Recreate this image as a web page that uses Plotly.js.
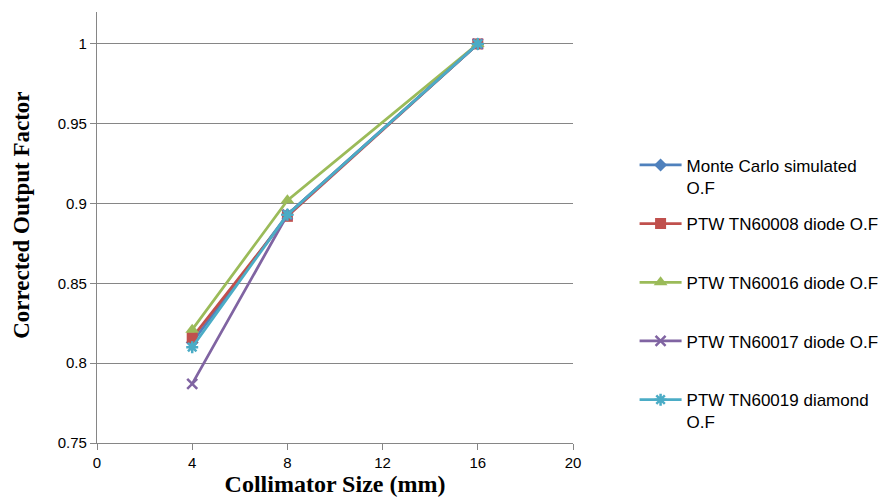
<!DOCTYPE html>
<html><head><meta charset="utf-8">
<script src="https://cdn.plot.ly/plotly-3.0.1.min.js"></script>
<style>body{margin:0;background:#fff}#c{width:895px;height:502px}</style>
</head><body><div id="c"></div>
<script>
const collimator = [4, 8, 16];
const seriesNames = ["Monte Carlo simulated<br>O.F", "PTW TN60008 diode O.F<br> ", "PTW TN60016 diode O.F<br> ", "PTW TN60017 diode O.F<br> ", "PTW TN60019 diamond<br>O.F"];
const monteCarlo = [0.813, 0.893, 1.0];
const tn60008 = [0.816, 0.892, 1.0];
const tn60016 = [0.821, 0.902, 1.0];
const tn60017 = [0.787, 0.893, 1.0];
const tn60019 = [0.810, 0.893, 1.0];
const xTicks = [0, 4, 8, 12, 16, 20];
const yTicks = [0.75, 0.8, 0.85, 0.9, 0.95, 1];
const yTitle = "Corrected Output Factor";
const xTitle = "Collimator Size (mm)";

const colors = ["#4F81BD", "#C0504D", "#9BBB59", "#8064A2", "#4BACC6"];
const symbols = ["diamond", "square", "triangle-up", "x-thin-open", "asterisk-open"];
const sizes = [10, 11, 12, 10, 10];
const vals = [monteCarlo, tn60008, tn60016, tn60017, tn60019];

const traces = vals.map((v, i) => ({
  x: collimator, y: v, name: seriesNames[i], type: "scatter", mode: "lines+markers",
  legendgroup: "g" + i,
  line: {color: colors[i], width: 2.75},
  marker: {symbol: symbols[i], size: sizes[i], color: colors[i],
           line: {color: colors[i], width: (i >= 3 ? 2.5 : 0)}}
}));

const layout = {
  width: 895, height: 502,
  margin: {l: 97, r: 321, t: 12, b: 59},
  paper_bgcolor: "#fff", plot_bgcolor: "#fff",
  font: {family: "Liberation Sans, Arial, sans-serif", size: 14, color: "#000"},
  xaxis: {range: [0, 20], tickvals: xTicks, ticktext: xTicks.map(String),
    showgrid: false, zeroline: false, showline: true, linecolor: "#868686", linewidth: 1.2,
    ticks: "outside", ticklen: 6, tickcolor: "#868686",
    tickfont: {size: 15},
    title: {text: "<b>" + xTitle + "</b>", font: {family: "Liberation Serif, Times New Roman, serif", size: 24}, standoff: 0}},
  yaxis: {range: [0.75, 1.02], tickvals: yTicks, ticktext: ["0.75", "0.8", "0.85", "0.9", "0.95", "1"],
    showgrid: true, gridcolor: "#868686", gridwidth: 1.2, zeroline: false,
    showline: true, linecolor: "#868686", linewidth: 1.2,
    ticks: "outside", ticklen: 6, tickcolor: "#868686",
    tickfont: {size: 15}},
  annotations: [{text: "<b>" + yTitle + "</b>", xref: "paper", yref: "paper", x: 0, y: 0.527,
    xanchor: "center", yanchor: "middle", xshift: -75, textangle: -90, showarrow: false,
    font: {family: "Liberation Serif, Times New Roman, serif", size: 23, color: "#000"}}],
  showlegend: true,
  legend: {x: 1.127, y: 0.686, xanchor: "left", yanchor: "top", valign: "top",
    traceorder: "grouped", tracegroupgap: 11.5,
    font: {size: 17}, bgcolor: "rgba(0,0,0,0)", itemwidth: 42}
};
Plotly.newPlot("c", traces, layout, {displayModeBar: false});
</script></body></html>
